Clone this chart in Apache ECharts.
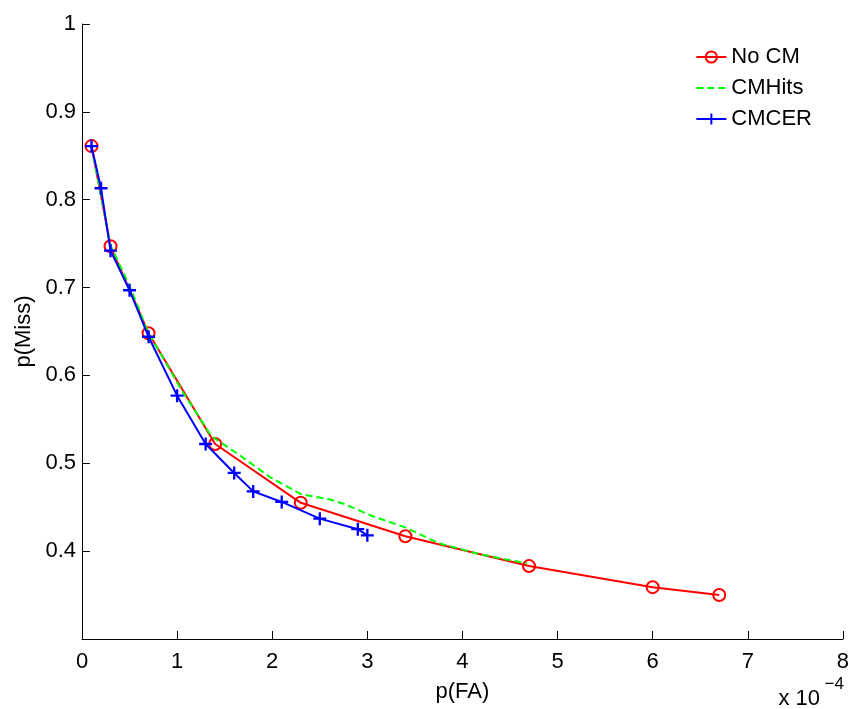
<!DOCTYPE html>
<html>
<head>
<meta charset="utf-8">
<script src="https://cdn.jsdelivr.net/npm/echarts@6/dist/echarts.min.js"></script>
<style>
  html, body { margin: 0; padding: 0; background: #fff; }
  #chart { width: 852px; height: 709px; }
</style>
</head>
<body>
<div id="chart"></div>
<script>
// p(FA) in units of 1e-4, p(Miss)
var noCM = [[0.1, 0.861], [0.3, 0.747], [0.7, 0.648], [1.4, 0.522], [2.3, 0.455],
            [3.4, 0.417], [4.7, 0.383], [6.0, 0.359], [6.7, 0.350]];
var cmHits = [[0.1, 0.861], [0.3, 0.748], [0.5, 0.702], [0.7, 0.648], [1.06, 0.581],
              [1.36, 0.531], [1.66, 0.509], [1.98, 0.484], [2.3, 0.465], [2.6, 0.459],
              [2.75, 0.454], [3.05, 0.440], [3.4, 0.427], [3.75, 0.409], [4.2, 0.396],
              [4.68, 0.386]];
var cmCER = [[0.1, 0.861], [0.2, 0.813], [0.3, 0.742], [0.5, 0.697], [0.7, 0.644],
             [1.0, 0.577], [1.3, 0.522], [1.6, 0.489], [1.8, 0.468], [2.1, 0.456],
             [2.5, 0.437], [2.9, 0.425], [3.0, 0.418]];
var seriesNames = ['No CM', 'CMHits', 'CMCER'];

var plusSymbol = 'path://M0,4.1H10V5.9H0Z M4.1,0H5.9V10H4.1Z';
var font = 'Liberation Sans, Arial, sans-serif';

var myChart = echarts.init(document.getElementById('chart'));

var option = {
    animation: false,
    backgroundColor: '#fff',
    grid: {
        left: 82,
        right: 9,
        top: 24,
        bottom: 70
    },
    legend: {
        data: seriesNames,
        orient: 'vertical',
        right: 35,
        top: 41,
        itemWidth: 30,
        itemHeight: 14,
        itemGap: 9,
        textStyle: { color: '#000', fontSize: 22, fontFamily: font }
    },
    xAxis: {
        type: 'value',
        min: 0,
        max: 8,
        interval: 1,
        name: 'p(FA)',
        nameLocation: 'middle',
        nameGap: 42,
        nameTextStyle: { color: '#000', fontSize: 22, fontFamily: font },
        axisLine: { onZero: false, lineStyle: { color: '#000', width: 1 } },
        axisTick: { inside: true, length: 8, lineStyle: { color: '#000' } },
        axisLabel: { color: '#000', fontSize: 22, fontFamily: font, margin: 12 },
        splitLine: { show: false }
    },
    yAxis: {
        type: 'value',
        min: 0.3,
        max: 1,
        interval: 0.1,
        name: 'p(Miss)',
        nameLocation: 'middle',
        nameGap: 41,
        nameTextStyle: { color: '#000', fontSize: 22, fontFamily: font },
        axisLine: { show: true, onZero: false, lineStyle: { color: '#000', width: 1 } },
        axisTick: { show: true, inside: true, length: 8, lineStyle: { color: '#000' } },
        axisLabel: { color: '#000', fontSize: 22, fontFamily: font, margin: 6, showMinLabel: false },
        splitLine: { show: false }
    },
    graphic: [
        {
            type: 'text',
            x: 820,
            y: 699,
            style: { text: 'x 10', fill: '#000', font: '22px "Liberation Sans", Arial, sans-serif', align: 'right', verticalAlign: 'middle' }
        },
        {
            type: 'text',
            x: 844,
            y: 684,
            style: { text: '−4', fill: '#000', font: '17px "Liberation Sans", Arial, sans-serif', align: 'right', verticalAlign: 'middle' }
        }
    ],
    series: [
        {
            name: seriesNames[0],
            type: 'line',
            data: noCM,
            symbol: 'circle',
            symbolSize: 12,
            showAllSymbol: true,
            itemStyle: { color: 'rgba(255,255,255,0)', borderColor: '#ff0000', borderWidth: 2 },
            lineStyle: { color: '#ff0000', width: 2 },
            z: 2
        },
        {
            name: seriesNames[1],
            type: 'line',
            data: cmHits,
            symbol: 'circle',
            showSymbol: false,
            itemStyle: { color: 'rgba(0,0,0,0)' },
            lineStyle: { color: '#00ff00', width: 2, type: [7, 4] },
            z: 3
        },
        {
            name: seriesNames[2],
            type: 'line',
            data: cmCER,
            symbol: plusSymbol,
            symbolSize: 13,
            showAllSymbol: true,
            itemStyle: { color: '#0000ff' },
            lineStyle: { color: '#0000ff', width: 2 },
            z: 4
        }
    ]
};

myChart.setOption(option);
</script>
</body>
</html>
